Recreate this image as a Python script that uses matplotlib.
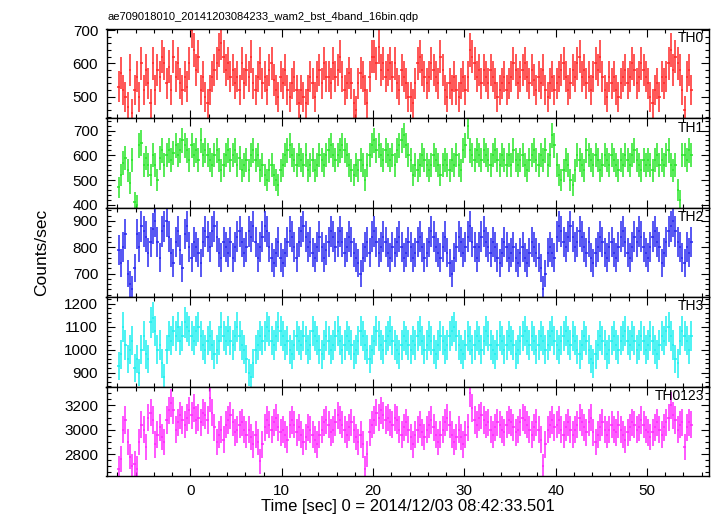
import numpy as np
import matplotlib.pyplot as plt
from matplotlib.ticker import MultipleLocator

plt.rcParams['font.family'] = ['Liberation Sans', 'DejaVu Sans']

# light curves, 0.25 s bins starting at -8 s (counts/sec)
t_start = -8.0
bin_w = 0.25

th0 = [530, 570, 520, 500, 470, 580, 450, 520,
       560, 500, 600, 520, 580, 540, 480, 600,
       520, 580, 560, 620, 600, 540, 590, 520,
       620, 560, 600, 540, 520, 560, 530, 600,
       700, 640, 580, 620, 520, 560, 500, 480,
       520, 560, 580, 600, 640, 660, 620, 580,
       600, 560, 580, 540, 560, 520, 600, 540,
       580, 560, 620, 540, 520, 560, 600, 540,
       560, 520, 580, 600, 550, 520, 500, 560,
       540, 580, 520, 500, 540, 560, 520, 480,
       520, 500, 480, 520, 560, 540, 500, 560,
       580, 540, 600, 560, 560, 540, 600, 560,
       580, 620, 560, 520, 540, 570, 540, 480,
       460, 540, 570, 560, 520, 480, 560, 620,
       620, 600, 650, 580, 600, 560, 580, 600,
       560, 600, 540, 520, 580, 560, 540, 500,
       500, 480, 540, 600, 620, 580, 560, 540,
       560, 600, 580, 560, 540, 620, 580, 520,
       500, 540, 520, 560, 520, 500, 540, 560,
       520, 560, 640, 620, 600, 560, 580, 540,
       580, 560, 540, 580, 560, 540, 500, 520,
       540, 560, 520, 540, 560, 600, 580, 540,
       560, 580, 600, 560, 540, 580, 550, 520,
       560, 540, 580, 520, 500, 540, 560, 520,
       540, 560, 580, 600, 560, 520, 540, 580,
       560, 600, 620, 560, 580, 540, 560, 520,
       560, 600, 580, 620, 560, 520, 500, 560,
       540, 560, 520, 500, 540, 560, 580, 540,
       560, 600, 580, 540, 560, 600, 580, 560,
       540, 500, 480, 520, 540, 500, 560, 540,
       560, 600, 640, 580, 620, 600, 580, 520,
       460, 560, 580, 520]

th1 = [470, 520, 570, 590, 540, 490, 580, 410,
       400, 640, 650, 560, 590, 560, 520, 600,
       560, 500, 590, 620, 560, 600, 620, 580,
       610, 640, 600, 620, 660, 640, 620, 580,
       640, 600, 620, 580, 660, 600, 620, 600,
       580, 560, 600, 620, 580, 540, 560, 600,
       620, 580, 600, 620, 560, 590, 540, 560,
       580, 540, 600, 620, 580, 600, 540, 560,
       520, 500, 540, 560, 520, 500, 480, 540,
       560, 600, 620, 640, 600, 580, 560, 600,
       580, 560, 600, 540, 560, 580, 540, 560,
       600, 580, 560, 600, 620, 640, 600, 580,
       600, 620, 640, 620, 600, 560, 540, 520,
       560, 540, 580, 560, 500, 560, 600, 640,
       660, 620, 640, 600, 580, 620, 600, 580,
       600, 560, 620, 640, 660, 680, 640, 600,
       580, 520, 560, 540, 560, 600, 580, 560,
       540, 560, 600, 580, 560, 520, 560, 580,
       560, 540, 580, 560, 600, 560, 540, 620,
       640, 720, 620, 600, 580, 620, 600, 580,
       620, 600, 580, 560, 600, 620, 580, 560,
       600, 580, 560, 600, 560, 620, 580, 560,
       580, 600, 560, 540, 580, 600, 620, 580,
       560, 600, 580, 620, 560, 600, 680, 640,
       560, 520, 500, 540, 580, 560, 500, 480,
       540, 600, 580, 560, 540, 620, 600, 580,
       560, 600, 580, 540, 560, 600, 580, 560,
       600, 580, 560, 540, 580, 560, 600, 580,
       560, 600, 620, 580, 560, 540, 580, 560,
       580, 560, 540, 580, 600, 560, 580, 560,
       600, 620, 560, 540, 560, 460, 420, 600,
       600, 580, 620, 600]

th2 = [790, 740, 800, 850, 700, 660, 640, 720,
       850, 800, 880, 860, 840, 780, 820, 870,
       900, 820, 760, 860, 880, 900, 840, 780,
       740, 820, 860, 790, 720, 850, 880, 800,
       760, 820, 800, 780, 740, 820, 860, 840,
       800, 860, 880, 840, 780, 760, 820, 800,
       780, 820, 760, 800, 840, 860, 820, 780,
       800, 860, 840, 880, 820, 760, 800, 840,
       880, 860, 800, 760, 740, 780, 820, 760,
       740, 780, 820, 860, 840, 800, 760, 820,
       860, 880, 840, 800, 820, 780, 760, 800,
       840, 800, 760, 790, 820, 860, 840, 800,
       820, 860, 820, 780, 800, 840, 820, 780,
       760, 740, 700, 760, 800, 820, 780, 840,
       860, 820, 780, 800, 840, 820, 780, 760,
       800, 780, 820, 840, 800, 760, 780, 820,
       800, 760, 780, 820, 840, 800, 760, 780,
       820, 860, 840, 800, 780, 760, 800, 840,
       780, 740, 700, 760, 800, 840, 820, 780,
       800, 840, 880, 820, 800, 760, 800, 840,
       860, 820, 800, 780, 820, 800, 760, 740,
       780, 820, 800, 760, 780, 800, 760, 740,
       780, 800, 760, 740, 780, 820, 800, 780,
       760, 720, 640, 700, 780, 800, 780, 760,
       840, 880, 860, 820, 800, 840, 880, 840,
       800, 820, 860, 840, 800, 780, 820, 760,
       740, 780, 800, 840, 820, 780, 760, 800,
       820, 780, 760, 800, 840, 860, 820, 780,
       760, 800, 840, 820, 860, 840, 800, 780,
       760, 800, 840, 860, 820, 800, 740, 780,
       820, 860, 880, 900, 860, 820, 800, 760,
       740, 800, 780, 820]

th3 = [930, 980, 1100, 1020, 960, 1000, 1040, 920,
       960, 900, 1000, 1060, 980, 960, 1120, 1140,
       1080, 1000, 1020, 940, 880, 1000, 1060, 1040,
       1080, 1060, 1100, 1040, 1060, 1120, 1100, 1080,
       1060, 1040, 1080, 1100, 1060, 1020, 1000, 1040,
       1060, 1020, 980, 1000, 1040, 1100, 1060, 1040,
       1080, 1040, 1020, 1060, 1100, 1060, 1020, 1000,
       960, 900, 880, 940, 1000, 1020, 1060, 1040,
       1060, 1100, 1080, 1040, 1020, 1060, 1100, 1080,
       1060, 1020, 1040, 1000, 980, 1020, 1060, 1040,
       1020, 1060, 1040, 1000, 1020, 1080, 1060, 1040,
       1000, 980, 1020, 1060, 1040, 1000, 1020, 1060,
       1080, 1040, 1000, 1020, 1060, 1040, 1020, 980,
       1000, 1040, 1080, 1060, 1020, 1000, 960, 1000,
       1040, 1080, 1060, 1020, 1000, 1040, 1060, 1080,
       1040, 1020, 1000, 980, 1020, 1060, 1040, 1020,
       1000, 1040, 1020, 1060, 1080, 1040, 1000, 1020,
       1060, 1040, 1000, 980, 1020, 1060, 1040, 1000,
       1020, 1060, 1080, 1100, 1060, 1020, 1000, 980,
       1020, 1060, 1040, 1000, 1020, 1060, 1040, 1000,
       1040, 1080, 1060, 1020, 1000, 980, 1020, 1060,
       1040, 1000, 1020, 1060, 1040, 1020, 980, 1000,
       1040, 1060, 1080, 1040, 1020, 1060, 1040, 1000,
       1020, 1060, 1040, 1000, 1020, 1060, 1080, 1040,
       1020, 1000, 1040, 1060, 1080, 1040, 1020, 1060,
       1040, 1000, 980, 1020, 1060, 1040, 1000, 960,
       940, 980, 1020, 1060, 1040, 1020, 980, 1000,
       1040, 1060, 1020, 1000, 1040, 1060, 1080, 1040,
       1020, 1060, 1040, 1000, 1020, 1060, 1040, 1000,
       1020, 1060, 1040, 1000, 980, 1020, 1060, 1040,
       1080, 1100, 1060, 1020, 960, 940, 1040, 1080,
       1060, 1040, 1000, 1060]

th0123 = [2680, 2760, 3000, 3080, 2900, 2780, 2700, 2720,
          2680, 2900, 3040, 3000, 2860, 3100, 3140, 3080,
          2880, 2960, 3020, 2940, 2900, 3080, 3160, 3220,
          3160, 3000, 3060, 3120, 3080, 3040, 3100, 3160,
          3120, 3180, 3080, 3100, 3060, 3140, 3120, 3080,
          3260, 3140, 3020, 2900, 2960, 3000, 2920, 3040,
          3080, 3120, 3060, 2980, 3000, 3040, 3060, 3000,
          2960, 3000, 2940, 2880, 2960, 2900, 2740, 2880,
          3020, 3080, 3040, 3000, 3060, 3100, 3020, 2980,
          3000, 2960, 2920, 3040, 3080, 3040, 2980, 3020,
          2960, 2900, 2940, 3020, 3000, 2960, 2920, 2880,
          2960, 3000, 3060, 3080, 3040, 2980, 3000, 3060,
          3120, 3080, 3040, 3000, 2960, 3020, 3060, 3000,
          2940, 2900, 2960, 2880, 2680, 2800, 2980, 3040,
          3080, 3140, 3100, 3160, 3120, 3080, 3100, 3060,
          3040, 3100, 3080, 3000, 2960, 3020, 3060, 3000,
          2940, 2880, 2960, 3000, 3040, 2980, 2940, 3000,
          3040, 3080, 3020, 2960, 2900, 2960, 3000, 3060,
          3100, 3040, 2960, 2900, 2940, 3000, 2940, 2880,
          2960, 3020, 3300, 3180, 3080, 3040, 3100, 3120,
          3080, 3040, 3060, 3000, 2960, 3020, 3060, 3040,
          3000, 2980, 3040, 3080, 3060, 3020, 2980, 3000,
          3060, 3100, 3080, 3040, 3000, 2960, 3020, 3060,
          3000, 2920, 2700, 2880, 3000, 3040, 3080, 3020,
          3040, 3080, 3000, 2960, 3020, 3060, 3000, 2960,
          3000, 3040, 3100, 3060, 3020, 2980, 3060, 3100,
          2980, 2900, 2960, 3020, 3060, 3000, 2960, 3000,
          3040, 3000, 2980, 3040, 3000, 2960, 2920, 2980,
          3020, 3060, 3040, 3000, 3020, 3080, 3040, 3000,
          2980, 2940, 2980, 3020, 3060, 3000, 2960, 3020,
          3060, 3100, 3200, 3120, 3080, 3000, 3040, 3060,
          2860, 3020, 3060, 3040]

names = ['TH0', 'TH1', 'TH2', 'TH3', 'TH0123']
series = [th0, th1, th2, th3, th0123]
colors = ['#ff2828', '#28e628', '#2828f0', '#1ef0f0', '#ff28ff']
ylims = [(435, 703), (388, 749), (610, 950), (839, 1229), (2621, 3354)]
ymajor = [100, 100, 100, 100, 200]
yminor = [20, 20, 20, 20, 50]

fig = plt.figure(figsize=(7.17, 5.16), dpi=100)
left, right = 106.5 / 717, 709 / 717
top, bottom = 1 - 29 / 516, 1 - 476 / 516
h = (top - bottom) / 5

axes = []
for i in range(5):
    ax = fig.add_axes([left, top - (i + 1) * h, right - left, h])
    y = np.array(series[i], dtype=float)
    t = t_start + bin_w * (np.arange(len(y)) + 0.5)
    err = np.sqrt(y / bin_w)  # poisson
    ax.errorbar(t, y, xerr=bin_w / 2, yerr=err, fmt='none',
                ecolor=colors[i], elinewidth=1.1, capsize=0)
    ax.set_xlim(-9.2, 56.8)
    ax.set_ylim(*ylims[i])
    ax.xaxis.set_major_locator(MultipleLocator(10))
    ax.xaxis.set_minor_locator(MultipleLocator(2))
    ax.yaxis.set_major_locator(MultipleLocator(ymajor[i]))
    ax.yaxis.set_minor_locator(MultipleLocator(yminor[i]))
    ax.tick_params(which='both', direction='in', top=True, right=True,
                   labelsize=11, width=0.8)
    ax.tick_params(which='major', length=6, pad=6)
    ax.tick_params(which='minor', length=3)
    for s in ax.spines.values():
        s.set_linewidth(1.0)
    if i < 4:
        ax.tick_params(labelbottom=False)
    ax.text(0.9917, 0.975, names[i], transform=ax.transAxes,
            ha='right', va='top', fontsize=10)
    axes.append(ax)

fig.text((left + right) / 2, 1 - 507 / 516, 'Time [sec] 0 = 2014/12/03 08:42:33.501',
         ha='center', va='center', fontsize=12)
fig.text(0.058, (top + bottom) / 2, 'Counts/sec', rotation=90,
         ha='center', va='center', fontsize=12.5)
fig.text(108 / 717, 1 - 20 / 516, 'ae709018010_20141203084233_wam2_bst_4band_16bin.qdp',
         ha='left', va='baseline', fontsize=8.0)

plt.savefig('out.png', dpi=100)
